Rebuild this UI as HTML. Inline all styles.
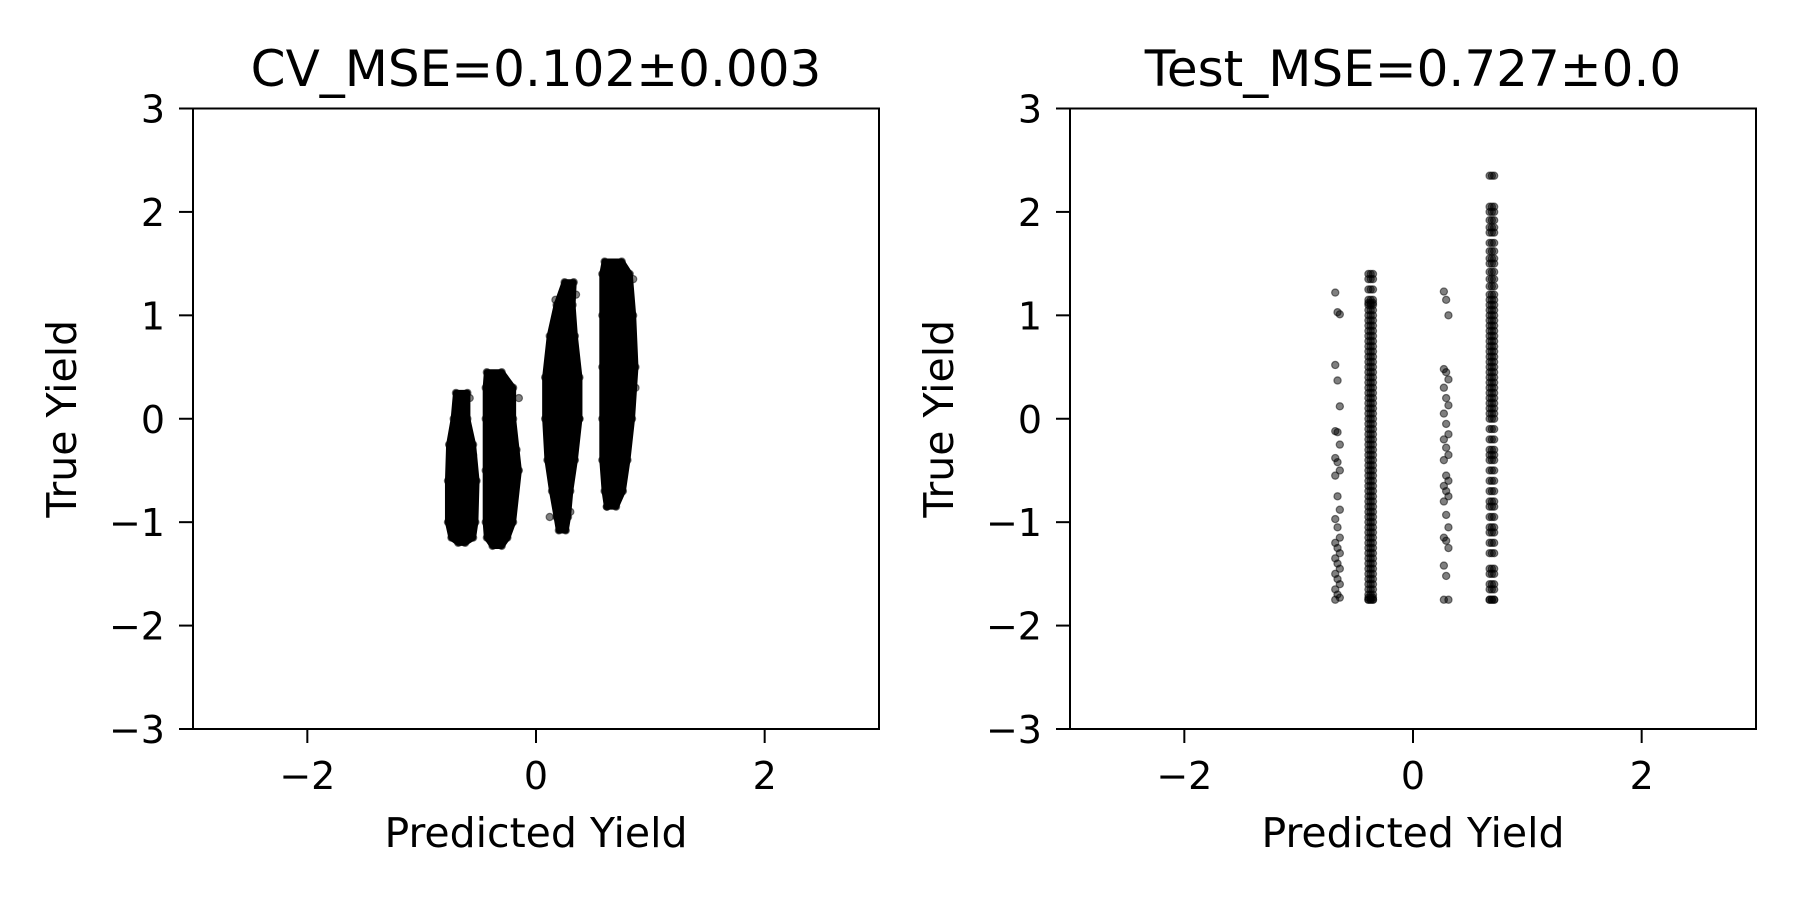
<!DOCTYPE html>
<html><head><meta charset="utf-8"><style>
html,body{margin:0;padding:0;background:#fff;}
svg{display:block;font-family:"DejaVu Sans","Liberation Sans",sans-serif;}
</style></head><body>
<svg id="fig" width="1800" height="900" viewBox="0 0 1800 900" xmlns="http://www.w3.org/2000/svg"></svg>
<script>
// ---- data ----
const xTicks = [-2, 0, 2];
const yTicks = [-3, -2, -1, 0, 1, 2, 3];
const tickLabels = {"-3":"\u22123","-2":"\u22122","-1":"\u22121","0":"0","1":"1","2":"2","3":"3"};
// Left panel: dense cluster outlines [y, xLeft, xRight]
const cvClusterA = [[0.25,-0.7,-0.6],[0,-0.72,-0.6],[-0.25,-0.76,-0.55],[-0.6,-0.77,-0.52],[-1.0,-0.77,-0.53],[-1.15,-0.74,-0.55],[-1.2,-0.68,-0.62]];
const cvClusterB = [[0.45,-0.43,-0.3],[0.3,-0.44,-0.2],[0,-0.44,-0.2],[-0.5,-0.44,-0.15],[-1.0,-0.44,-0.2],[-1.15,-0.43,-0.25],[-1.23,-0.38,-0.3]];
const cvClusterC = [[1.32,0.25,0.33],[1.1,0.18,0.32],[0.8,0.12,0.34],[0.4,0.08,0.38],[0,0.08,0.38],[-0.4,0.1,0.34],[-0.7,0.14,0.3],[-0.95,0.18,0.28],[-1.08,0.2,0.26]];
const cvClusterD = [[1.52,0.6,0.75],[1.4,0.58,0.82],[1.0,0.58,0.85],[0.5,0.58,0.87],[0,0.58,0.84],[-0.4,0.58,0.8],[-0.7,0.6,0.76],[-0.85,0.62,0.7]];
const cvOutlierX = [-0.55,-0.17,-0.15,0.35,0.22,0.3,0.85,0.87,0.8,0.62,0.38,-0.58,0.12,0.27,-0.62,-0.35,0.17,0.7];
const cvOutlierY = [-0.35,-0.3,0.2,1.2,-1.05,-0.9,1.35,0.3,-0.2,-0.85,0.0,0.2,-0.95,1.3,-1.15,-1.2,1.15,-0.8];
// Right panel columns
const testColX = [-0.66, -0.37, 0.29, 0.69];
const testColA = [1.22,1.03,1.01,0.52,0.37,0.12,-0.12,-0.13,-0.25,-0.38,-0.42,-0.5,-0.55,-0.75,-0.88,-0.97,-1.05,-1.15,-1.2,-1.25,-1.3,-1.35,-1.4,-1.45,-1.5,-1.55,-1.6,-1.65,-1.7,-1.73,-1.75];
const testColB = [1.4,1.35,1.25,1.15,1.12,1.1,1.05,1.0,0.95,0.9,0.85,0.8,0.75,0.7,0.65,0.6,0.55,0.5,0.45,0.4,0.35,0.3,0.25,0.2,0.15,0.1,0.05,0.0,-0.05,-0.1,-0.15,-0.2,-0.25,-0.3,-0.35,-0.4,-0.45,-0.5,-0.55,-0.6,-0.65,-0.7,-0.75,-0.8,-0.85,-0.9,-0.95,-1.0,-1.05,-1.1,-1.15,-1.2,-1.25,-1.3,-1.35,-1.4,-1.45,-1.5,-1.55,-1.6,-1.65,-1.7,-1.73,-1.75,-1.75];
const testColC = [1.23,1.15,1.0,0.48,0.45,0.38,0.3,0.2,0.13,0.05,-0.05,-0.15,-0.2,-0.28,-0.35,-0.4,-0.55,-0.6,-0.65,-0.7,-0.75,-0.8,-0.93,-1.05,-1.15,-1.18,-1.25,-1.42,-1.52,-1.75,-1.75];
const testColD = [2.35,2.05,2.0,1.92,1.85,1.8,1.7,1.62,1.55,1.5,1.42,1.35,1.28,1.2,1.15,1.1,1.05,1.0,0.95,0.9,0.85,0.8,0.75,0.7,0.65,0.6,0.55,0.5,0.45,0.4,0.35,0.3,0.25,0.2,0.15,0.1,0.05,0.0,-0.1,-0.2,-0.3,-0.35,-0.4,-0.5,-0.6,-0.7,-0.8,-0.85,-0.95,-1.05,-1.1,-1.2,-1.3,-1.45,-1.5,-1.6,-1.65,-1.75,-1.75];
const jitter = [-0.02, 0, 0.02];

const NS = "http://www.w3.org/2000/svg";
const svg = document.getElementById('fig');
function mk(tag, attrs, parent){const e=document.createElementNS(NS,tag);for(const k in attrs)e.setAttribute(k,attrs[k]);(parent||svg).appendChild(e);return e;}

function panel(x0, title, name){
  const x1 = x0 + 686, y0 = 108.5, y1 = 729;
  const sx = v => x0 + (v + 3) / 6 * (x1 - x0);
  const sy = v => y1 - (v + 3) / 6 * (y1 - y0);
  const g = mk('g', {});
  
  
  const t = mk('text', {x:(x0+x1)/2, y:86, 'text-anchor':'middle', 'font-size':'50'}, g);
  t.textContent = title;
  
  
  xTicks.forEach(v=>{
    mk('line',{x1:sx(v),x2:sx(v),y1:y1,y2:y1+14,stroke:'#000','stroke-width':2},g);
    const l = mk('text',{x:sx(v),y:y1+60,'text-anchor':'middle','font-size':'38'},g);
    l.textContent = tickLabels[String(v)];
    
    
  });
  yTicks.forEach(v=>{
    mk('line',{x1:x0-14,x2:x0,y1:sy(v),y2:sy(v),stroke:'#000','stroke-width':2},g);
    const l = mk('text',{x:x0-28,y:sy(v)+14,'text-anchor':'end','font-size':'38'},g);
    l.textContent = tickLabels[String(v)];
    
    
  });
  const xl = mk('text',{x:(x0+x1)/2,y:847,'text-anchor':'middle','font-size':'41'},g);
  xl.textContent = 'Predicted Yield';
  
  
  const yl = mk('text',{x:0,y:0,'text-anchor':'middle','font-size':'41',transform:`translate(${x0-117},${(y0+y1)/2}) rotate(-90)`},g);
  yl.textContent = 'True Yield';
  
  
  const pts = mk('g', {}, g);
  
  
  mk('rect',{x:x0,y:y0,width:x1-x0,height:y1-y0,fill:'none',stroke:'#000','stroke-width':2},g);
  return {sx, sy, pts};
}
function dot(p, x, y){
  const c = mk('circle',{cx:p.sx(x),cy:p.sy(y),r:3.6,fill:'rgba(0,0,0,0.5)',stroke:'rgba(0,0,0,0.5)','stroke-width':1.2},p.pts);
  
  
}
function cluster(p, prof){
  let d = prof.map((r,i)=>(i?'L':'M')+p.sx(r[1])+','+p.sy(r[0])).join(' ');
  d += ' ' + prof.slice().reverse().map(r=>'L'+p.sx(r[2])+','+p.sy(r[0])).join(' ') + ' Z';
  const e = mk('path',{d, fill:'#000', stroke:'#000','stroke-width':6,'stroke-linejoin':'round'},p.pts);
  
  
  prof.forEach(r=>{dot(p,r[1],r[0]);dot(p,r[2],r[0]);});
}

const left = panel(193, 'CV_MSE=0.102\u00b10.003', 'cv-panel');
[cvClusterA, cvClusterB, cvClusterC, cvClusterD].forEach(c=>cluster(left,c));
cvOutlierX.forEach((x,i)=>dot(left,x,cvOutlierY[i]));

const right = panel(1070, 'Test_MSE=0.727\u00b10.0', 'test-panel');
testColA.forEach((y,i)=>dot(right, testColX[0] + jitter[i%3], y));
testColB.forEach(y=>jitter.forEach(j=>dot(right, testColX[1] + j, y)));
testColC.forEach((y,i)=>dot(right, testColX[2] + jitter[i%3], y));
testColD.forEach(y=>jitter.forEach(j=>dot(right, testColX[3] + j, y)));
</script>
</body></html>
